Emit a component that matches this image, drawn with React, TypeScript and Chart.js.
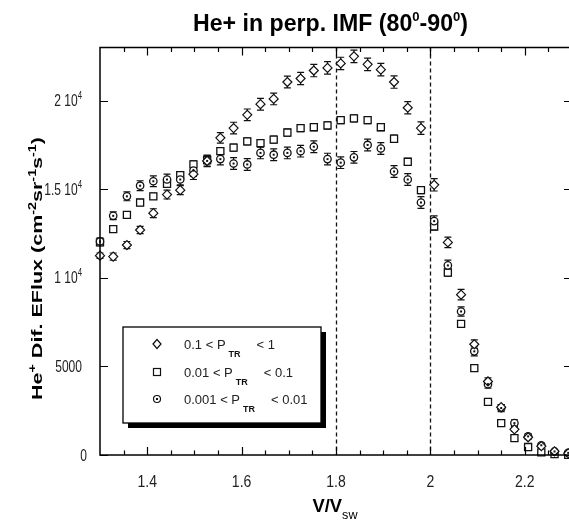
import React, { useEffect, useRef } from 'react';
import { Chart, registerables } from 'chart.js';

Chart.register(...registerables);

// ---------- data ----------
const X_MIN = 1.3;
const X_MAX = 2.3;
const Y_MIN = 0;
const Y_MAX = 23000;

const vRatio = [
  1.300, 1.328, 1.357, 1.385, 1.413, 1.442, 1.470, 1.498, 1.527, 1.555,
  1.583, 1.612, 1.640, 1.668, 1.697, 1.725, 1.753, 1.782, 1.810, 1.838,
  1.867, 1.895, 1.923, 1.952, 1.980, 2.008, 2.037, 2.065, 2.093, 2.122,
  2.150, 2.178, 2.207, 2.235, 2.263, 2.292,
];

// 0.1 < P_TR < 1 (diamonds)
const fluxHigh = [
  11250, 11200, 11850, 12700, 13650, 14700, 14950, 15850, 16600, 17900,
  18450, 19200, 19800, 20100, 21050, 21250, 21700, 21850, 22100, 22500,
  22050, 21750, 21050, 19600, 18450, 15250, 12000, 9050, 6250, 4150,
  2700, 1450, 1000, 500, 210, 100,
];
const errHigh = [
  150, 200, 200, 200, 250, 250, 250, 300, 300, 300,
  330, 330, 330, 330, 330, 350, 350, 350, 350, 350,
  350, 350, 350, 350, 350, 350, 300, 300, 250, 200,
  150, 100, 80, 60, 40, 30,
];

// 0.01 < P_TR < 0.1 (squares)
const fluxMid = [
  12000, 12750, 13550, 14250, 14600, 15300, 15800, 16400, 16650, 17150,
  17350, 17700, 17600, 17800, 18200, 18450, 18500, 18600, 18900, 19000,
  18900, 18500, 17850, 16550, 14950, 12900, 10300, 7400, 4900, 3000,
  1800, 950, 450, 150, 50, 10,
];
const errMid = [
  180, 180, 180, 180, 180, 200, 200, 200, 200, 200,
  200, 200, 200, 200, 200, 200, 200, 200, 200, 200,
  200, 200, 200, 200, 200, 200, 200, 180, 150, 130,
  120, 100, 80, 60, 40, 20,
];

// 0.001 < P_TR < 0.01 (circles with dot)
const fluxLow = [
  12050, 13500, 14600, 15200, 15450, 15550, 15550, 16050, 16600, 16700,
  16450, 16400, 17050, 16950, 17050, 17150, 17400, 16700, 16500, 16800,
  17500, 17300, 16000, 15550, 14250, 13200, 10700, 8100, 5850, 4000,
  2650, 1800, 1050, 550, 200, 120,
];
const errLow = [
  200, 220, 250, 280, 300, 300, 300, 320, 320, 320,
  330, 330, 330, 330, 330, 330, 330, 330, 330, 330,
  330, 330, 330, 330, 330, 300, 300, 260, 250, 220,
  200, 180, 150, 120, 80, 60,
];

const xMajorTicks = [1.4, 1.6, 1.8, 2.0, 2.2];
const xMajorLabels = ['1.4', '1.6', '1.8', '2', '2.2'];
const xMinorTicks = [1.35, 1.45, 1.5, 1.55, 1.65, 1.7, 1.75, 1.85, 1.9, 1.95, 2.05, 2.1, 2.15, 2.25];
const yTicks = [0, 5000, 10000, 15000, 20000];
const yTickMantissa = ['0', '5000', '1 10', '1.5 10', '2 10'];
const yTickExponent = ['', '', '4', '4', '4'];
const refLines = [1.8, 2.0];
const legendLow = ['0.1', '0.01', '0.001'];
const legendHigh = ['1', '0.1', '0.01'];

// ---------- text helpers ----------
type Seg = { t: string; font: string; dy?: number };

function segWidths(ctx: CanvasRenderingContext2D, segs: Seg[]) {
  return segs.map((s) => {
    ctx.font = s.font;
    return ctx.measureText(s.t).width;
  });
}

function drawRich(
  ctx: CanvasRenderingContext2D,
  segs: Seg[],
  x: number,
  y: number,
  align: 'left' | 'center' | 'right',
  opts: { sx?: number; sy?: number; target?: number; color?: string } = {}
) {
  const w = segWidths(ctx, segs);
  const natural = w.reduce((a, b) => a + b, 0);
  const sx = opts.target ? opts.target / natural : opts.sx ?? 1;
  const sy = opts.sy ?? 1;
  const total = natural * sx;
  let cx = align === 'left' ? x : align === 'center' ? x - total / 2 : x - total;
  ctx.fillStyle = opts.color ?? '#111';
  ctx.textAlign = 'left';
  ctx.textBaseline = 'alphabetic';
  segs.forEach((s, i) => {
    ctx.save();
    ctx.font = s.font;
    ctx.translate(cx, y + (s.dy ?? 0) * sy);
    ctx.scale(sx, sy);
    ctx.fillText(s.t, 0, 0);
    ctx.restore();
    cx += w[i] * sx;
  });
}

const FONT = '"Liberation Sans", Arial, sans-serif';

function drawDiamond(ctx: CanvasRenderingContext2D, x: number, y: number, rx: number, ry: number) {
  ctx.beginPath();
  ctx.moveTo(x - rx, y);
  ctx.lineTo(x, y - ry);
  ctx.lineTo(x + rx, y);
  ctx.lineTo(x, y + ry);
  ctx.closePath();
  ctx.fillStyle = '#fff';
  ctx.fill();
  ctx.stroke();
}

const errorArrays = [errHigh, errLow, errMid];

const decor = {
  id: 'decor',
  beforeDatasetsDraw(chart: any) {
    const ctx: CanvasRenderingContext2D = chart.ctx;
    const xs = chart.scales.x;
    const ys = chart.scales.y;
    const { top, bottom } = chart.chartArea;
    ctx.save();
    // reference dashed lines
    ctx.strokeStyle = '#111';
    ctx.lineWidth = 1.3;
    ctx.setLineDash([4, 3]);
    refLines.forEach((v) => {
      const px = Math.round(xs.getPixelForValue(v)) + 0.5;
      ctx.beginPath();
      ctx.moveTo(px, top);
      ctx.lineTo(px, bottom);
      ctx.stroke();
    });
    ctx.setLineDash([]);
    // error bars
    ctx.strokeStyle = '#111';
    ctx.lineWidth = 1.2;
    chart.data.datasets.forEach((ds: any, di: number) => {
      const errs = errorArrays[di];
      ds.data.forEach((p: any, i: number) => {
        const px = xs.getPixelForValue(p.x);
        const y1 = ys.getPixelForValue(p.y + errs[i]);
        const y2 = ys.getPixelForValue(Math.max(0, p.y - errs[i]));
        ctx.beginPath();
        ctx.moveTo(px, y1);
        ctx.lineTo(px, y2);
        ctx.moveTo(px - 3.5, y1);
        ctx.lineTo(px + 3.5, y1);
        ctx.moveTo(px - 3.5, y2);
        ctx.lineTo(px + 3.5, y2);
        ctx.stroke();
      });
    });
    ctx.restore();
  },
  afterDatasetsDraw(chart: any) {
    const ctx: CanvasRenderingContext2D = chart.ctx;
    const xs = chart.scales.x;
    const ys = chart.scales.y;
    const { left, right, top, bottom } = chart.chartArea;
    ctx.save();

    // dots inside circles (dataset 1)
    const meta = chart.getDatasetMeta(1);
    ctx.fillStyle = '#111';
    meta.data.forEach((pt: any) => {
      ctx.fillRect(pt.x - 1, pt.y - 1, 2, 2);
    });

    // frame
    ctx.strokeStyle = '#000';
    ctx.lineWidth = 1.5;
    ctx.strokeRect(left, top, right - left, bottom - top);

    // x ticks (inward, bottom and top)
    ctx.lineWidth = 1.2;
    ctx.beginPath();
    xMajorTicks.forEach((v) => {
      const px = Math.round(xs.getPixelForValue(v)) + 0.5;
      ctx.moveTo(px, bottom);
      ctx.lineTo(px, bottom - 8);
      ctx.moveTo(px, top);
      ctx.lineTo(px, top + 8);
    });
    xMinorTicks.forEach((v) => {
      const px = Math.round(xs.getPixelForValue(v)) + 0.5;
      ctx.moveTo(px, bottom);
      ctx.lineTo(px, bottom - 4.5);
      ctx.moveTo(px, top);
      ctx.lineTo(px, top + 4.5);
    });
    // y ticks (inward, left and right)
    yTicks.forEach((v) => {
      const py = Math.round(ys.getPixelForValue(v)) + 0.5;
      ctx.moveTo(left, py);
      ctx.lineTo(left + 8, py);
      ctx.moveTo(right, py);
      ctx.lineTo(right - 8, py);
    });
    ctx.stroke();

    // x tick labels
    xMajorTicks.forEach((v, i) => {
      const px = xs.getPixelForValue(v);
      drawRich(ctx, [{ t: xMajorLabels[i], font: `14px ${FONT}` }], px, 487, 'center', { sy: 1.2, color: '#222' });
    });

    // y tick labels
    yTicks.forEach((v, i) => {
      const py = ys.getPixelForValue(v);
      const segs: Seg[] = [{ t: yTickMantissa[i], font: `14px ${FONT}` }];
      if (yTickExponent[i]) segs.push({ t: yTickExponent[i], font: `9px ${FONT}`, dy: -6 });
      drawRich(ctx, segs, v === 0 ? 87 : 82, py + 5.5, 'right', { sx: 0.86, sy: 1.15, color: '#222' });
    });

    // chart title
    drawRich(
      ctx,
      [
        { t: 'He+ in perp. IMF (80', font: `bold 23px ${FONT}` },
        { t: '0', font: `bold 13px ${FONT}`, dy: -10 },
        { t: '-90', font: `bold 23px ${FONT}` },
        { t: '0', font: `bold 13px ${FONT}`, dy: -10 },
        { t: ')', font: `bold 23px ${FONT}` },
      ],
      330.5,
      31,
      'center',
      { target: 275, color: '#000' }
    );

    // x axis title
    drawRich(
      ctx,
      [
        { t: 'V/V', font: `bold 16px ${FONT}` },
        { t: 'sw', font: `11px ${FONT}`, dy: 7 },
      ],
      335,
      511.5,
      'center',
      { target: 45, sy: 1.1, color: '#000' }
    );

    // y axis title (rotated)
    ctx.save();
    ctx.translate(42, 268.5);
    ctx.rotate(-Math.PI / 2);
    drawRich(
      ctx,
      [
        { t: 'He', font: `bold 15px ${FONT}` },
        { t: '+', font: `bold 10px ${FONT}`, dy: -6 },
        { t: ' Dif. EFlux (cm', font: `bold 15px ${FONT}` },
        { t: '-2', font: `bold 10px ${FONT}`, dy: -6 },
        { t: 'sr', font: `bold 15px ${FONT}` },
        { t: '-1', font: `bold 10px ${FONT}`, dy: -6 },
        { t: 's', font: `bold 15px ${FONT}` },
        { t: '-1', font: `bold 10px ${FONT}`, dy: -6 },
        { t: ')', font: `bold 15px ${FONT}` },
      ],
      0,
      0,
      'center',
      { target: 263, color: '#000' }
    );
    ctx.restore();

    // legend box with shadow
    const bx = 123, by = 327, bw = 198, bh = 96;
    ctx.fillStyle = '#000';
    ctx.fillRect(bx + 5, by + 5, bw, bh);
    ctx.fillStyle = '#fff';
    ctx.fillRect(bx, by, bw, bh);
    ctx.strokeStyle = '#000';
    ctx.lineWidth = 1.3;
    ctx.strokeRect(bx, by, bw, bh);

    const rowY = [344, 372, 399];
    ctx.strokeStyle = '#111';
    ctx.lineWidth = 1.2;
    // symbols
    drawDiamond(ctx, 157, rowY[0], 4, 4.5);
    ctx.fillStyle = '#fff';
    ctx.fillRect(153.5, rowY[1] - 3.5, 7, 7);
    ctx.strokeRect(153.5, rowY[1] - 3.5, 7, 7);
    ctx.beginPath();
    ctx.arc(157, rowY[2], 3.5, 0, Math.PI * 2);
    ctx.fillStyle = '#fff';
    ctx.fill();
    ctx.stroke();
    ctx.fillStyle = '#111';
    ctx.fillRect(156, rowY[2] - 1, 2, 2);

    // legend texts
    legendLow.forEach((lo, i) => {
      const base = rowY[i] + 5;
      const pre = `${lo} < P`;
      ctx.font = `13px ${FONT}`;
      const wPre = ctx.measureText(pre).width;
      drawRich(ctx, [{ t: pre, font: `13px ${FONT}` }], 184, base, 'left', { color: '#222' });
      ctx.font = `bold 9px ${FONT}`;
      const wSub = ctx.measureText('TR').width;
      const subX = 184 + wPre + 3;
      drawRich(ctx, [{ t: 'TR', font: `bold 9px ${FONT}` }], subX, base + 8, 'left', { color: '#111' });
      drawRich(ctx, [{ t: `< ${legendHigh[i]}`, font: `13px ${FONT}` }], subX + wSub + 16, base, 'left', { color: '#222' });
    });

    ctx.restore();
  },
};

export default function App() {
  const ref = useRef<HTMLCanvasElement | null>(null);

  useEffect(() => {
    if (!ref.current) return;
    const mk = (ys: number[]) => vRatio.map((x, i) => ({ x, y: ys[i] }));
    const chart = new Chart(ref.current, {
      type: 'scatter',
      data: {
        datasets: [
          {
            label: '0.1 < P_TR < 1',
            data: mk(fluxHigh),
            pointStyle: 'rectRot',
            pointRadius: 4.5,
            pointBorderWidth: 1.2,
            pointBackgroundColor: '#fff',
            pointBorderColor: '#111',
            clip: false as any,
          },
          {
            label: '0.001 < P_TR < 0.01',
            data: mk(fluxLow),
            pointStyle: 'circle',
            pointRadius: 3.7,
            pointBorderWidth: 1.3,
            pointBackgroundColor: '#fff',
            pointBorderColor: '#111',
            clip: false as any,
          },
          {
            label: '0.01 < P_TR < 0.1',
            data: mk(fluxMid),
            pointStyle: 'rect',
            pointRadius: 5,
            pointBorderWidth: 1.3,
            pointBackgroundColor: '#fff',
            pointBorderColor: '#111',
            clip: false as any,
          },
        ],
      },
      options: {
        responsive: false,
        maintainAspectRatio: false,
        animation: false,
        devicePixelRatio: 1,
        events: [],
        layout: { padding: { left: 100, right: 8, top: 47.5, bottom: 66 } },
        scales: {
          x: { type: 'linear', min: X_MIN, max: X_MAX, display: false },
          y: { type: 'linear', min: Y_MIN, max: Y_MAX, display: false },
        },
        plugins: {
          legend: { display: false },
          title: { display: false },
          tooltip: { enabled: false },
        },
      },
      plugins: [decor],
    });
    return () => chart.destroy();
  }, []);

  return (
    <div
      style={{
        position: 'fixed',
        left: 0,
        top: 0,
        width: 569,
        height: 521,
        overflow: 'hidden',
        background: '#fff',
      }}
    >
      <canvas ref={ref} width={580} height={521} style={{ width: 580, height: 521, display: 'block' }} />
    </div>
  );
}
